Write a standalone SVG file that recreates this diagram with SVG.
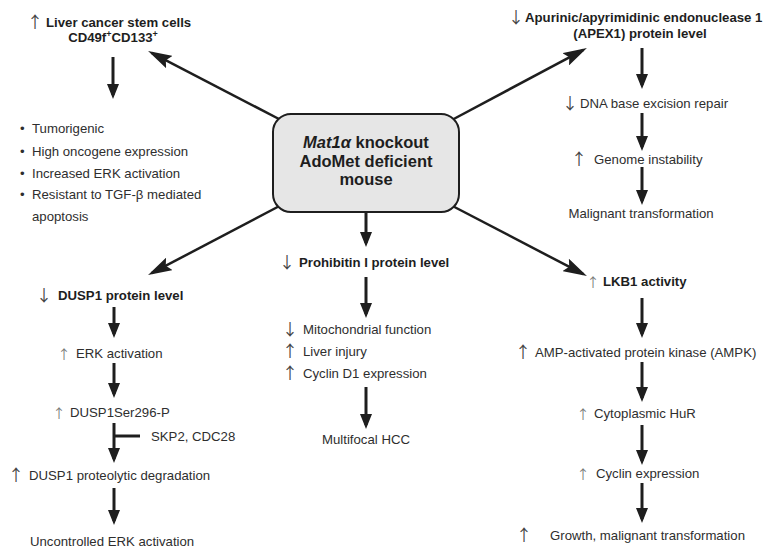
<svg xmlns="http://www.w3.org/2000/svg" width="769" height="551" viewBox="0 0 769 551">
<style>
  text { font-family: "Liberation Sans", Arial, sans-serif; font-size: 13.2px; fill: #2e2e2e; }
  .b { font-weight: bold; fill: #1e1e1e; }
  .ar { font-family: "Noto Sans CJK SC", "Noto Sans CJK JP", sans-serif; fill: #444; font-size: 16px; }
  .sm { fill: #777; font-size: 13px; }
  .title { font-size: 16.5px; font-weight: bold; fill: #1e1e1e; text-anchor: middle; }
  .mid { text-anchor: middle; }
  .v { stroke: #1e1e1e; stroke-width: 3; fill: none; }
  .d { stroke: #1e1e1e; stroke-width: 2.5; fill: none; }
</style>
<defs>
  <marker id="hv" markerUnits="userSpaceOnUse" viewBox="0 0 15 12" markerWidth="15" markerHeight="12" refX="11" refY="6" orient="auto">
    <path d="M0,0 L15,6 L0,12 z" fill="#1e1e1e"/>
  </marker>
  <marker id="hd" markerUnits="userSpaceOnUse" viewBox="0 0 24 14" markerWidth="24" markerHeight="14" refX="20" refY="7" orient="auto">
    <path d="M0,0 L24,7 L0,14 L4,7 z" fill="#1e1e1e"/>
  </marker>
</defs>

<g id="connectors">
  <line class="d" x1="279" y1="119" x2="151.6" y2="52.8" marker-end="url(#hd)"/>
  <line class="d" x1="453.7" y1="119" x2="583.4" y2="49.8" marker-end="url(#hd)"/>
  <line class="d" x1="278.5" y1="206.5" x2="151.6" y2="273.2" marker-end="url(#hd)"/>
  <line class="d" x1="453.5" y1="206.5" x2="583.4" y2="274.2" marker-end="url(#hd)"/>
  <line class="v" x1="366" y1="212" x2="366" y2="243" marker-end="url(#hv)"/>

  <line class="v" x1="113" y1="57" x2="113" y2="95" marker-end="url(#hv)"/>

  <line class="v" x1="642" y1="48" x2="642" y2="85" marker-end="url(#hv)"/>
  <line class="v" x1="642" y1="113" x2="642" y2="147" marker-end="url(#hv)"/>
  <line class="v" x1="642" y1="167" x2="642" y2="201" marker-end="url(#hv)"/>

  <line class="v" x1="114" y1="307" x2="114" y2="334" marker-end="url(#hv)"/>
  <line class="v" x1="114" y1="363" x2="114" y2="394" marker-end="url(#hv)"/>
  <line class="v" x1="114" y1="423" x2="114" y2="459" marker-end="url(#hv)"/>
  <line class="v" x1="114" y1="436" x2="140" y2="436"/>
  <line class="v" x1="114" y1="488" x2="114" y2="521" marker-end="url(#hv)"/>

  <line class="v" x1="366" y1="277" x2="366" y2="314" marker-end="url(#hv)"/>
  <line class="v" x1="366" y1="387" x2="366" y2="425" marker-end="url(#hv)"/>

  <line class="v" x1="642" y1="298" x2="642" y2="334" marker-end="url(#hv)"/>
  <line class="v" x1="642" y1="362" x2="642" y2="398" marker-end="url(#hv)"/>
  <line class="v" x1="642" y1="425" x2="642" y2="461" marker-end="url(#hv)"/>
  <line class="v" x1="642" y1="483" x2="642" y2="519" marker-end="url(#hv)"/>
</g>

<g id="center">
  <rect x="273" y="114" width="186" height="98" rx="18" ry="18" fill="#e6e6e6" stroke="#1e1e1e" stroke-width="2"/>
  <text class="title" x="366" y="148"><tspan font-style="italic">Mat1α</tspan> knockout</text>
  <text class="title" x="366" y="167">AdoMet deficient</text>
  <text class="title" x="366" y="185">mouse</text>
</g>

<g id="stem-cells">
  <text class="ar" x="27" y="28">↑</text>
  <text class="b" x="46" y="27">Liver cancer stem cells</text>
  <text class="b mid" x="113" y="42">CD49f<tspan font-size="9" dy="-5">+</tspan><tspan dy="5">CD133</tspan><tspan font-size="9" dy="-5">+</tspan></text>
</g>

<g id="stem-effects">
  <text x="20" y="133">•</text><text x="32" y="133">Tumorigenic</text>
  <text x="20" y="156">•</text><text x="32" y="156">High oncogene expression</text>
  <text x="20" y="178">•</text><text x="32" y="178">Increased ERK activation</text>
  <text x="20" y="199">•</text><text x="32" y="199">Resistant to TGF-β mediated</text>
  <text x="32" y="221">apoptosis</text>
</g>

<g id="apex1">
  <text class="ar" x="508" y="23">↓</text>
  <text class="b" x="525" y="22">Apurinic/apyrimidinic endonuclease 1</text>
  <text class="b mid" x="640" y="38">(APEX1) protein level</text>
</g>
<g id="dna-repair">
  <text class="ar" x="562" y="109">↓</text>
  <text x="580" y="108">DNA base excision repair</text>
</g>
<g id="genome">
  <text class="ar" x="571" y="165">↑</text>
  <text x="594" y="164">Genome instability</text>
</g>
<g id="malignant">
  <text class="mid" x="641" y="218">Malignant transformation</text>
</g>

<g id="dusp1">
  <text class="ar" x="36" y="301">↓</text>
  <text class="b" x="58" y="300">DUSP1 protein level</text>
</g>
<g id="erk">
  <text class="ar sm" x="57.5" y="359">↑</text>
  <text x="76" y="358">ERK activation</text>
</g>
<g id="dusp1ser">
  <text class="ar sm" x="52.5" y="418">↑</text>
  <text x="70" y="417">DUSP1Ser296-P</text>
</g>
<g id="skp2">
  <text x="151" y="441">SKP2, CDC28</text>
</g>
<g id="dusp1-deg">
  <text class="ar" x="8" y="481">↑</text>
  <text x="29" y="480">DUSP1 proteolytic degradation</text>
</g>
<g id="uncontrolled">
  <text x="30" y="546">Uncontrolled ERK activation</text>
</g>

<g id="prohibitin">
  <text class="ar" x="279" y="268">↓</text>
  <text class="b" x="299" y="267">Prohibitin I protein level</text>
</g>
<g id="prohibitin-effects">
  <text class="ar" x="282" y="335">↓</text><text x="303" y="334">Mitochondrial function</text>
  <text class="ar" x="282" y="357">↑</text><text x="303" y="356">Liver injury</text>
  <text class="ar" x="282" y="379">↑</text><text x="303" y="378">Cyclin D1 expression</text>
</g>
<g id="hcc">
  <text class="mid" x="366" y="444">Multifocal HCC</text>
</g>

<g id="lkb1">
  <text class="ar sm" x="586.5" y="287">↑</text>
  <text class="b" x="603" y="286">LKB1 activity</text>
</g>
<g id="ampk">
  <text class="ar" x="515" y="358">↑</text>
  <text x="535" y="357">AMP-activated protein kinase (AMPK)</text>
</g>
<g id="hur">
  <text class="ar sm" x="576.5" y="419">↑</text>
  <text x="594" y="418">Cytoplasmic HuR</text>
</g>
<g id="cyclin">
  <text class="ar sm" x="576.5" y="479">↑</text>
  <text x="596" y="478">Cyclin expression</text>
</g>
<g id="growth">
  <text class="ar" x="516" y="541">↑</text>
  <text x="550" y="540">Growth, malignant transformation</text>
</g>
</svg>
